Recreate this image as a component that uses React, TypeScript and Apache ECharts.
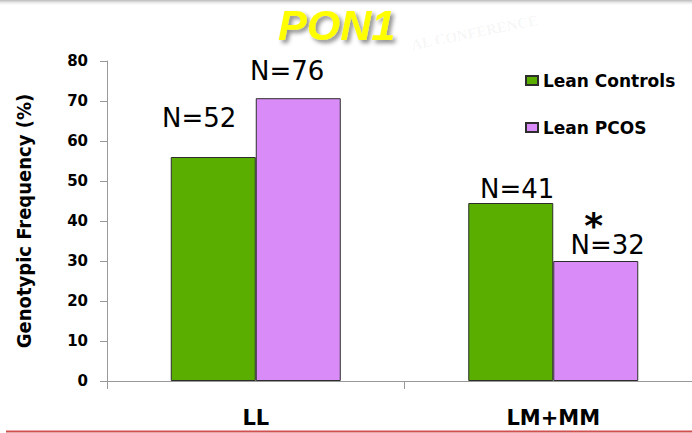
import React, { useEffect, useRef } from "react";
import * as echarts from "echarts";

const categories = ["LL", "LM+MM"];
const leanControls = [56, 44.5];
const leanPCOS = [70.7, 30];
const controlsN = ["N=52", "N=41"];
const pcosN = ["N=76", "N=32"];
const pcosMarks = ["", "*"];
const seriesNames = ["Lean Controls", "Lean PCOS"];
const yMin = 0;
const yMax = 80;
const yInterval = 10;

// label placement (styling only)
const controlsOffsets = [[-14, -26.5], [6.5, -1]];
const pcosOffsets = [[-11, -14], [12, -3.5]];

const labelFont = "'DejaVu Sans', Verdana, sans-serif";

export default function App() {
  const ref = useRef<HTMLDivElement>(null);
  useEffect(() => {
    if (!ref.current) return;
    const chart = echarts.init(ref.current, null, { renderer: "svg" });
    const rich = {
      n: { fontSize: 26, lineHeight: 26, color: "#000", fontFamily: labelFont },
      s: { fontSize: 36, lineHeight: 12, color: "#000", fontWeight: "bold", fontFamily: labelFont, padding: [0, 28, 0, 0] },
    };
    chart.setOption({
      animation: false,
      backgroundColor: "#ffffff",
      title: {
        text: "PON1",
        left: 273,
        top: -2,
        textStyle: {
          color: "#ffff00",
          fontSize: 43,
          fontWeight: "bold",
          fontStyle: "italic",
          fontFamily: "'Liberation Sans', Arial, sans-serif",
          textShadowColor: "rgba(0,0,0,0.45)",
          textShadowBlur: 4,
          textShadowOffsetX: 3,
          textShadowOffsetY: 3,
        },
      },
      graphic: [
        {
          type: "rect",
          shape: { x: 0, y: 0, width: 702, height: 6 },
          style: {
            fill: new echarts.graphic.LinearGradient(0, 0, 0, 1, [
              { offset: 0, color: "#b8b8b8" },
              { offset: 1, color: "rgba(255,255,255,0)" },
            ]),
          },
          silent: true,
        },
        {
          type: "text",
          x: 410,
          y: 38,
          rotation: 0.2,
          style: {
            text: "AL CONFERENCE",
            fill: "rgba(0,0,0,0.05)",
            fontSize: 15,
            fontFamily: "'Liberation Serif', serif",
            fontWeight: "bold",
          },
          silent: true,
        },
        {
          type: "line",
          shape: { x1: 6, y1: 431.5, x2: 702, y2: 431.5 },
          style: { stroke: "#d05050", lineWidth: 2 },
          silent: true,
        },
      ],
      legend: {
        data: seriesNames,
        orient: "vertical",
        left: 520,
        top: 67,
        itemGap: 30,
        itemWidth: 12,
        itemHeight: 9,
        icon: "rect",
        textStyle: {
          fontSize: 17,
          fontWeight: "bold",
          color: "#000",
          fontFamily: labelFont,
        },
      },
      grid: { left: 107, right: 0, top: 61, bottom: 52, containLabel: false },
      xAxis: {
        type: "category",
        data: categories,
        axisLine: { lineStyle: { color: "#999", width: 1 } },
        axisTick: { show: true, length: 8, lineStyle: { color: "#999" } },
        axisLabel: {
          margin: 26,
          fontSize: 21,
          fontWeight: "bold",
          color: "#000",
          fontFamily: labelFont,
        },
      },
      yAxis: {
        type: "value",
        min: yMin,
        max: yMax,
        interval: yInterval,
        name: "Genotypic Frequency (%)",
        nameLocation: "middle",
        nameGap: 73,
        nameTextStyle: {
          fontSize: 20,
          fontWeight: "bold",
          color: "#000",
          fontFamily: "'Liberation Sans Narrow', 'DejaVu Sans Condensed', sans-serif",
        },
        splitLine: { show: false },
        axisLine: { show: true, lineStyle: { color: "#999", width: 1 } },
        axisTick: { show: true, length: 7, lineStyle: { color: "#999" } },
        axisLabel: {
          margin: 19,
          fontSize: 15,
          fontWeight: "bold",
          color: "#000",
          fontFamily: labelFont,
        },
      },
      series: [
        {
          name: seriesNames[0],
          type: "bar",
          barWidth: 85,
          barGap: "0%",
          itemStyle: { color: "#5aae00", borderColor: "#2d2d2d", borderWidth: 1 },
          data: leanControls.map((v, i) => ({
            value: v,
            label: { offset: controlsOffsets[i] },
          })),
          label: {
            show: true,
            position: "top",
            distance: 0,
            formatter: (p: any) => `{n|${controlsN[p.dataIndex]}}`,
            rich,
          },
        },
        {
          name: seriesNames[1],
          type: "bar",
          barWidth: 85,
          barGap: "0%",
          itemStyle: { color: "#d98cf8", borderColor: "#2d2d2d", borderWidth: 1 },
          data: leanPCOS.map((v, i) => ({
            value: v,
            label: { offset: pcosOffsets[i] },
          })),
          label: {
            show: true,
            position: "top",
            distance: 0,
            formatter: (p: any) =>
              pcosMarks[p.dataIndex]
                ? `{s|${pcosMarks[p.dataIndex]}}\n{n|${pcosN[p.dataIndex]}}`
                : `{n|${pcosN[p.dataIndex]}}`,
            rich,
          },
        },
      ],
    });
    return () => chart.dispose();
  }, []);
  return (
    <div style={{ position: "absolute", left: 0, top: 0, width: 692, height: 433, overflow: "hidden" }}>
      <div ref={ref} style={{ width: 702, height: 433 }} />
    </div>
  );
}
